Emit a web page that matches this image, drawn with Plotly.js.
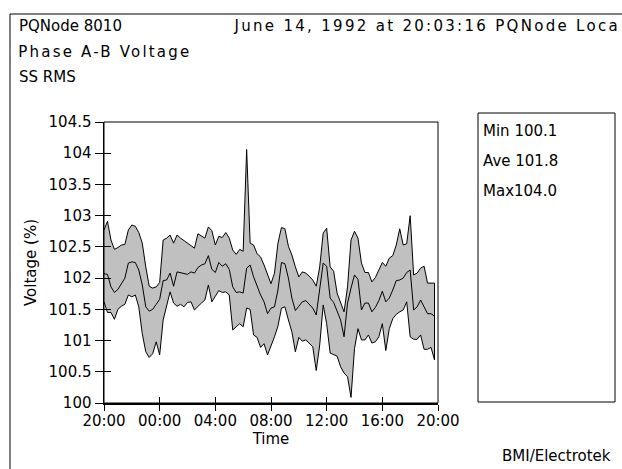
<!DOCTYPE html>
<html><head><meta charset="utf-8">
<script src="https://cdn.plot.ly/plotly-3.0.1.min.js"></script>
<style>
html,body{margin:0;padding:0;overflow:hidden;background:#fff}
#chart{width:622px;height:469px}
.annotation[data-index="1"] .annotation-text{letter-spacing:2.2px}
.annotation[data-index="3"] .annotation-text{letter-spacing:2.3px}
</style>
</head><body><div id="chart"></div>
<script>
// ---- data ----
const sampleStepHours = 0.25; // 15-minute samples from 20:00
const maxVoltage = [102.77, 102.91, 102.61, 102.46, 102.49, 102.53, 102.54, 102.77, 102.85, 102.83,
 102.73, 102.56, 102.18, 101.87, 101.84, 101.86, 101.93, 102.61, 102.64, 102.69,
 102.56, 102.69, 102.64, 102.60, 102.55, 102.51, 102.48, 102.71, 102.68, 102.64,
 102.82, 102.76, 102.53, 102.67, 102.65, 102.73, 102.64, 102.45, 102.38, 102.46,
 102.43, 104.06, 102.56, 102.53, 102.39, 102.34, 102.21, 102.07, 101.91, 102.08,
 102.56, 102.81, 102.79, 102.51, 102.37, 102.18, 102.02, 102.10, 102.08, 102.03,
 101.97, 101.87, 102.18, 102.72, 102.80, 102.18, 102.11, 101.76, 101.61, 101.46,
 101.86, 102.61, 102.75, 102.64, 102.24, 102.09, 102.09, 101.94, 102.01, 102.12,
 102.25, 102.19, 102.32, 102.36, 102.53, 102.79, 102.53, 102.55, 103.00, 102.05,
 102.08, 102.16, 102.19, 101.92, 101.92, 101.92];
const aveVoltage = [102.07, 102.06, 101.86, 101.77, 101.82, 101.91, 102.00, 102.24, 102.26, 102.25,
 102.13, 101.89, 101.54, 101.47, 101.50, 101.58, 101.66, 101.96, 101.97, 102.08,
 101.87, 102.10, 102.09, 102.08, 102.06, 102.10, 102.08, 102.17, 102.21, 102.23,
 102.36, 102.14, 102.09, 102.25, 102.19, 102.23, 102.14, 101.86, 101.77, 101.78,
 101.76, 102.16, 102.21, 102.02, 101.86, 101.73, 101.62, 101.43, 101.52, 101.54,
 101.81, 102.25, 102.23, 102.00, 101.68, 101.48, 101.55, 101.62, 101.64, 101.58,
 101.52, 101.41, 101.81, 102.24, 102.19, 101.68, 101.61, 101.46, 101.33, 101.06,
 101.60, 101.84, 102.05, 101.98, 101.49, 101.60, 101.60, 101.46, 101.53, 101.64,
 101.79, 101.62, 101.68, 101.81, 101.96, 101.97, 102.00, 102.09, 102.13, 101.49,
 101.54, 101.65, 101.53, 101.43, 101.43, 101.39];
const minVoltage = [101.62, 101.45, 101.45, 101.34, 101.50, 101.55, 101.58, 101.73, 101.70, 101.73,
 101.54, 101.11, 100.82, 100.73, 100.79, 100.98, 100.77, 101.33, 101.57, 101.78,
 101.60, 101.55, 101.58, 101.54, 101.61, 101.62, 101.49, 101.54, 101.60, 101.65,
 101.89, 101.62, 101.71, 101.80, 101.77, 101.78, 101.73, 101.17, 101.22, 101.27,
 101.22, 101.52, 101.50, 101.09, 101.05, 100.89, 100.95, 100.77, 100.93, 101.06,
 101.23, 101.52, 101.54, 101.33, 101.14, 100.82, 101.05, 100.99, 101.01, 100.96,
 100.90, 100.52, 100.93, 101.57, 101.27, 100.80, 100.77, 100.75, 100.58, 100.48,
 100.42, 100.09, 100.87, 101.19, 101.01, 101.01, 101.09, 100.96, 100.98, 101.06,
 101.27, 100.84, 101.19, 101.35, 101.42, 101.46, 101.49, 101.62, 101.06, 101.02,
 101.02, 101.09, 100.86, 100.86, 100.89, 100.69];
const xTickVals = [0, 4, 8, 12, 16, 20, 24];
const xTickLabels = ['20:00', '00:00', '04:00', '08:00', '12:00', '16:00', '20:00'];
const yTickVals = [100, 100.5, 101, 101.5, 102, 102.5, 103, 103.5, 104, 104.5];
const yTickLabels = ['100', '100.5', '101', '101.5', '102', '102.5', '103', '103.5', '104', '104.5'];
const headerLines = ['PQNode 8010', 'Phase A-B Voltage', 'SS RMS'];
const dateLine = 'June 14, 1992 at 20:03:16 PQNode Loca';
const statLines = ['Min 100.1', 'Ave 101.8', 'Max104.0'];
const creditText = 'BMI/Electrotek';

// ---- layout geometry ----
const W = 622, H = 469;
const M = {l: 104, r: 184, t: 122, b: 66};
const PW = W - M.l - M.r, PH = H - M.t - M.b;
const px = v => (v - M.l) / PW;          // pixel x -> paper
const py = v => (H - M.b - v) / PH;      // pixel y -> paper
const FONT = 'DejaVu Sans';

const hours = maxVoltage.map((_, i) => i * sampleStepHours);
const bandX = hours.concat(hours.slice().reverse());
const bandY = maxVoltage.concat(minVoltage.slice().reverse());

const traces = [
  {x: bandX, y: bandY, type: 'scatter', mode: 'lines', fill: 'toself',
   fillcolor: '#c0c0c0', line: {color: '#000', width: 1}, hoverinfo: 'skip', name: 'Min/Max'},
  {x: hours, y: aveVoltage, type: 'scatter', mode: 'lines',
   line: {color: '#000', width: 1}, name: 'Ave'},
  {x: [hours[0]], y: [aveVoltage[0]], xaxis: 'x2', yaxis: 'y2', type: 'scatter', mode: 'markers',
   marker: {opacity: 0}, hoverinfo: 'skip', showlegend: false}
];

const ann = [];
const addText = (text, x, y, xanchor, size) => ann.push({
  text, xref: 'paper', yref: 'paper', x: px(x), y: py(y), xanchor, yanchor: 'middle',
  showarrow: false, font: {family: FONT, size: size || 15, color: '#000'}
});
// indices: 0..2 header lines, 3 date line, 4..6 stats, 7 credit
addText(headerLines[0], 17, 26, 'left');
addText(headerLines[1], 17 + 18, 51.5, 'left');
addText(headerLines[2], 17, 77, 'left');
addText(dateLine, 232 + 42, 26, 'left');
statLines.forEach((t, i) => addText(t, 481, 131 + i * 30, 'left'));
addText(creditText, 613, 456, 'right');

const layout = {
  width: W, height: H, margin: {l: M.l, r: M.r, t: M.t, b: M.b, pad: 0},
  paper_bgcolor: '#fff', plot_bgcolor: '#fff', showlegend: false,
  font: {family: FONT, size: 15, color: '#000'},
  xaxis: {range: [0, 24], tickmode: 'array', tickvals: xTickVals, ticktext: xTickLabels,
    ticks: 'outside', ticklen: 6, tickwidth: 1, tickcolor: '#000', ticklabelstandoff: -3,
    showline: true, linewidth: 2, linecolor: '#000', showgrid: false, zeroline: false,
    tickfont: {family: FONT, size: 15}, title: {text: 'Time', standoff: 2, font: {family: FONT, size: 15}}},
  xaxis2: {overlaying: 'x', anchor: 'y', side: 'bottom', range: [0, 24], tickmode: 'array', tickvals: xTickVals,
    ticks: 'inside', ticklen: 6, tickwidth: 1, tickcolor: '#000', showticklabels: false,
    showline: false, showgrid: false, zeroline: false},
  yaxis: {range: [100, 104.5], tickmode: 'array', tickvals: yTickVals, ticktext: yTickLabels,
    ticks: 'outside', ticklen: 8, tickwidth: 1, tickcolor: '#000',
    showline: true, linewidth: 1.5, linecolor: '#000', showgrid: false, zeroline: false,
    tickfont: {family: FONT, size: 15}, title: {text: 'Voltage (%)', standoff: 8, font: {family: FONT, size: 15}}},
  yaxis2: {overlaying: 'y', anchor: 'x', side: 'left', range: [100, 104.5], tickmode: 'array', tickvals: yTickVals,
    ticks: 'inside', ticklen: 7, tickwidth: 1, tickcolor: '#000', showticklabels: false,
    showline: false, showgrid: false, zeroline: false},
  shapes: [
    {type: 'rect', xref: 'paper', yref: 'paper', x0: 0, x1: 1, y0: 0, y1: 1, line: {color: '#000', width: 1}},
    {type: 'rect', xref: 'paper', yref: 'paper', x0: px(478), x1: px(615), y0: py(402), y1: py(113), line: {color: '#000', width: 1}},
    {type: 'rect', xref: 'paper', yref: 'paper', x0: px(10), x1: px(640), y0: py(490), y1: py(14), line: {color: '#000', width: 1}}
  ],
  annotations: ann
};

Plotly.newPlot('chart', traces, layout, {staticPlot: true, displayModeBar: false});
</script>
</body></html>
